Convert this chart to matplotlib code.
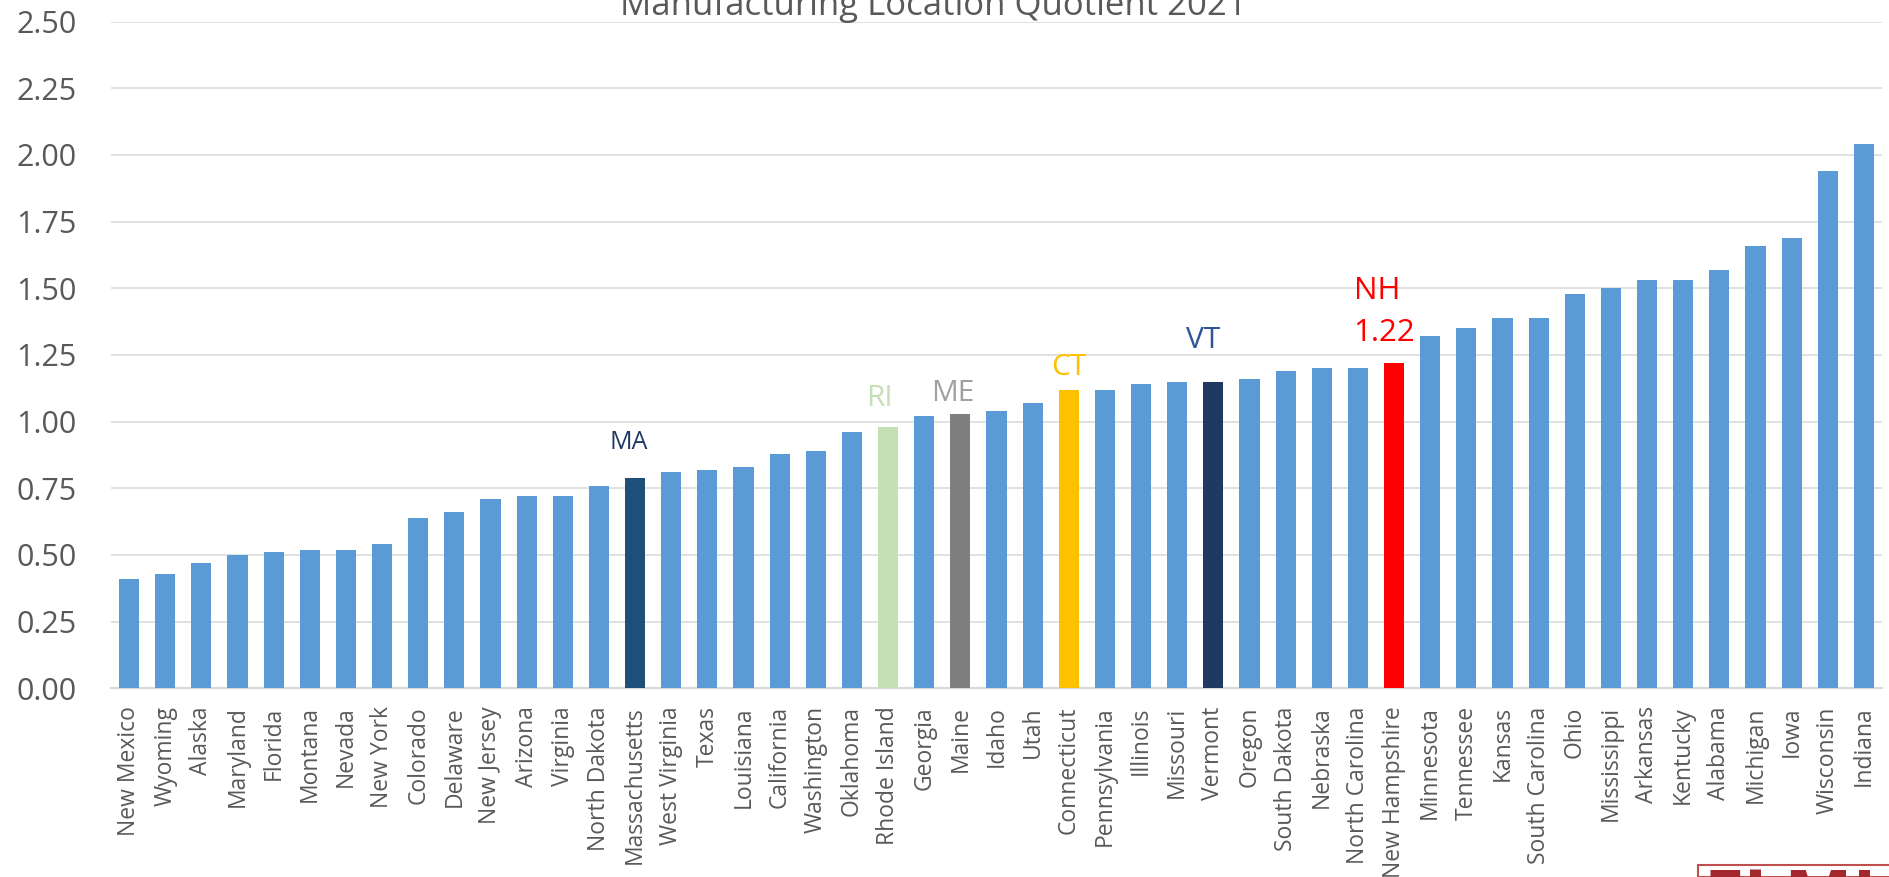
import matplotlib.pyplot as plt
from matplotlib.patches import Rectangle

plt.rcParams['font.family'] = ['Open Sans', 'DejaVu Sans']

states = ['New Mexico', 'Wyoming', 'Alaska', 'Maryland', 'Florida', 'Montana', 'Nevada',
          'New York', 'Colorado', 'Delaware', 'New Jersey', 'Arizona', 'Virginia',
          'North Dakota', 'Massachusetts', 'West Virginia', 'Texas', 'Louisiana',
          'California', 'Washington', 'Oklahoma', 'Rhode Island', 'Georgia', 'Maine',
          'Idaho', 'Utah', 'Connecticut', 'Pennsylvania', 'Illinois', 'Missouri',
          'Vermont', 'Oregon', 'South Dakota', 'Nebraska', 'North Carolina',
          'New Hampshire', 'Minnesota', 'Tennessee', 'Kansas', 'South Carolina', 'Ohio',
          'Mississippi', 'Arkansas', 'Kentucky', 'Alabama', 'Michigan', 'Iowa',
          'Wisconsin', 'Indiana']
lq = [0.41, 0.43, 0.47, 0.50, 0.51, 0.52, 0.52, 0.54, 0.64, 0.66, 0.71, 0.72, 0.72,
      0.76, 0.79, 0.81, 0.82, 0.83, 0.88, 0.89, 0.96, 0.98, 1.02, 1.03, 1.04, 1.07,
      1.12, 1.12, 1.14, 1.15, 1.15, 1.16, 1.19, 1.20, 1.20, 1.22, 1.32, 1.35, 1.39,
      1.39, 1.48, 1.50, 1.53, 1.53, 1.57, 1.66, 1.69, 1.94, 2.04]

# New England states get their own colour and a label above the bar
ne_states = ['Massachusetts', 'Rhode Island', 'Maine', 'Connecticut', 'Vermont', 'New Hampshire']
ne_abbr = ['MA', 'RI', 'ME', 'CT', 'VT', 'NH']

bar_cols = {'Massachusetts': '#1F4E79', 'Rhode Island': '#C5E0B4', 'Maine': '#7F7F7F',
            'Connecticut': '#FFC000', 'Vermont': '#203864', 'New Hampshire': '#FF0000'}
# label colour, x offset, y position, size
lab_style = {'MA': ('#203864', -0.18, 0.923, 18),
             'RI': ('#C5E0B4', -0.24, 1.087, 21.5),
             'ME': ('#A0A0A0', -0.20, 1.104, 21.5),
             'CT': ('#FFC000', 0.0, 1.203, 21.5),
             'VT': ('#2F5597', -0.28, 1.306, 21.5)}

fig = plt.figure(figsize=(18.9, 8.77), dpi=100)
ax = fig.add_axes([111 / 1890, 0.2152, 1771 / 1890, 0.7601])

x = list(range(len(states)))
colors = [bar_cols.get(s, '#5B9BD5') for s in states]
ax.bar(x, lq, width=0.56, color=colors, zorder=3)

ax.set_xlim(-0.5, len(states) - 0.5)
ax.set_ylim(0, 2.5)
ax.set_yticks([i * 0.25 for i in range(11)])
ax.set_yticklabels(['%.2f' % (i * 0.25) for i in range(11)])
ax.set_xticks(x)
ax.set_xticklabels(states, rotation=90)
ax.tick_params(axis='y', length=0, pad=25, labelsize=22, labelcolor='#595959')
ax.tick_params(axis='x', length=0, pad=13, labelsize=16.5, labelcolor='#595959')
ax.grid(axis='y', color='#D9D9D9', linewidth=1.1, zorder=0)
for sp in ['top', 'right', 'left']:
    ax.spines[sp].set_visible(False)
ax.spines['bottom'].set_color('#D9D9D9')
ax.spines['bottom'].set_linewidth(1.5)

for s, a in zip(ne_states, ne_abbr):
    i = states.index(s)
    if a == 'NH':
        ax.text(i - 1.12, 1.489, a, color='#FF0000', fontsize=22.5, ha='left', va='center')
        ax.text(i - 1.12, 1.334, '%.2f' % lq[i], color='#FF0000', fontsize=22.5,
                ha='left', va='center')
    else:
        c, dx, y, sz = lab_style[a]
        ax.text(i + dx, y, a, color=c, fontsize=sz, ha='center', va='center')

# title sits partly above the top edge, as in the original
fig.text(933 / 1890, (877 - 15) / 877, 'Manufacturing Location Quotient 2021',
         ha='center', va='baseline', fontsize=25, color='#595959')

# logo peeking in at the bottom right corner
fig.patches.append(Rectangle((1698 / 1890, 0), 200 / 1890, 12 / 877, transform=fig.transFigure,
                             facecolor='white', edgecolor='#C0504D', linewidth=1.5))
fig.text(1704 / 1890, (877 - 866) / 877, 'ELMI', ha='left', va='top', fontsize=52,
         fontweight='bold', color='#A3282E')

fig.savefig('out.png', dpi=100)
